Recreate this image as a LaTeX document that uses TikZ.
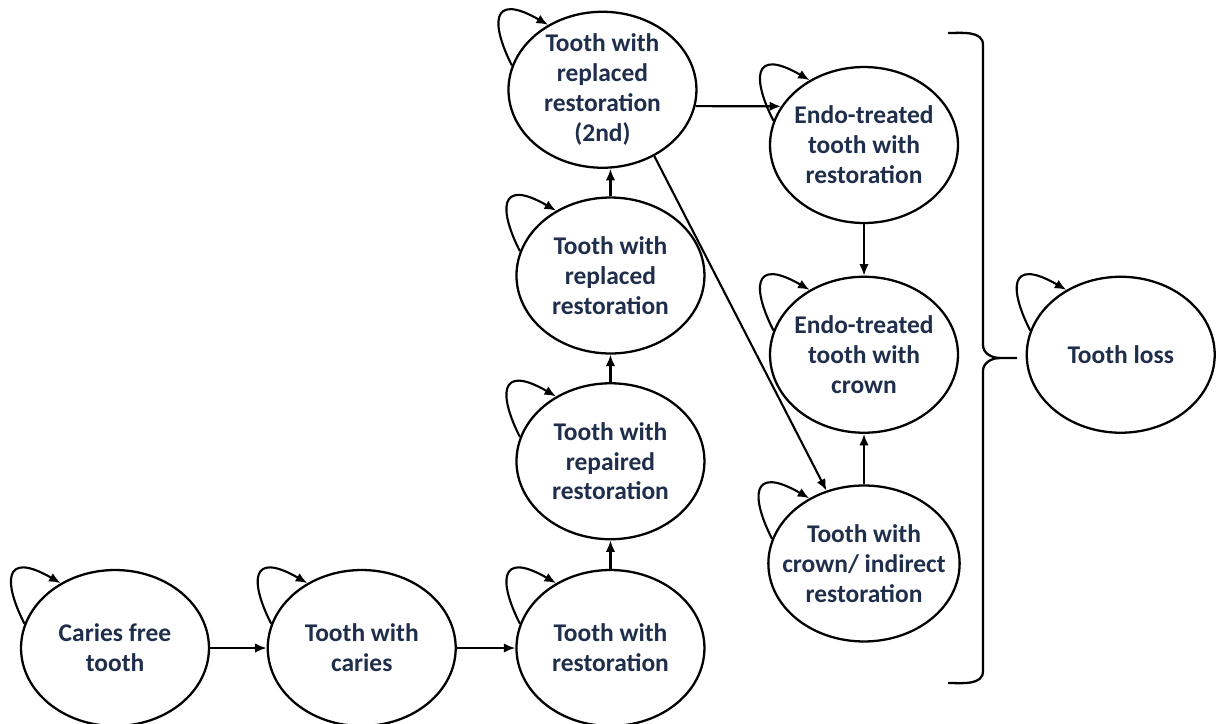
\documentclass[tikz,border=0pt]{standalone}
\usepackage{fontspec}
\setmainfont{Carlito}
\usetikzlibrary{arrows.meta, positioning, shapes.geometric}
\definecolor{azultexto}{HTML}{1F2E4B}
\colorlet{colTexto}{azultexto}
\colorlet{colLinea}{black}
\tikzset{
  estado/.style={
    ellipse, draw=colLinea, line width=1.3pt,
    minimum width=3.76cm, minimum height=3.12cm,
    inner xsep=-8pt, inner ysep=-8pt,
    align=center, font=\fontsize{14.5}{17}\selectfont\bfseries, text=colTexto
  },
  flecha/.style={-{Latex[length=2.3mm, width=1.9mm]}, line width=1.2pt, colLinea},
  bucle/.style={flecha, out=117, in=150, out looseness=2.1, in looseness=3.2},
  llave/.style={line width=1.3pt, colLinea},
}

\begin{document}
\begin{tikzpicture}[x=0.02cm, y=-0.02cm]
    \useasboundingbox (0,0) rectangle (1218,724);
    % fila inferior
    \node[estado] (libre) at (115,648) {Caries free\\tooth};
    \node[estado, right=1.13cm of libre] (caries) {Tooth with\\caries};
    \node[estado, right=1.17cm of caries] (restaur) {Tooth with\\restoration};
    % columna central
    \node[estado, above=0.57cm of restaur] (reparada) {Tooth with\\repaired\\restoration};
    \node[estado, above=0.55cm of reparada] (reempl) {Tooth with\\replaced\\restoration};
    \node[estado, above=0.55cm of reempl, xshift=-0.16cm] (segunda) {Tooth with\\replaced\\restoration\\(2nd)};
    % columna endo
    \node[estado] (endoRest) at (864,145) {Endo-treated\\tooth with\\restoration};
    \node[estado, below=1.03cm of endoRest] (endoCorona) {Endo-treated\\tooth with\\crown};
    \node[estado, below=1.01cm of endoCorona] (corona) {Tooth with\\crown/ indirect\\restoration};
    \node[estado, right=1.33cm of endoCorona] (perdida) {Tooth loss};

    \draw[flecha] (libre) -- (caries);
    \draw[flecha] (caries) -- (restaur);
    \draw[flecha] (restaur) -- (reparada);
    \draw[flecha] (reparada) -- (reempl);
    \draw[flecha] (reempl.north) -- (reempl.north |- segunda.south);
    \draw[flecha] (segunda.-10) -- (endoRest.155);
    \draw[flecha] (segunda.-52) -- (corona);
    \draw[flecha] (endoRest) -- (endoCorona);
    \draw[flecha] (corona) -- (endoCorona);

    % bucles
    \foreach \n in {libre, caries, restaur, reparada, reempl, segunda,
                    endoRest, endoCorona, corona, perdida}
      \draw[bucle] (\n.165) to (\n.130);

    % llave
    \draw[llave] (948,33) to[out=0, in=90] (983,45) -- (983,345)
      to[out=-90, in=180] (1000,358) -- (1017,358);
    \draw[llave] (1000,358) to[out=180, in=90] (983,371) -- (983,671)
      to[out=-90, in=0] (948,683);
  \end{tikzpicture}
\end{document}
